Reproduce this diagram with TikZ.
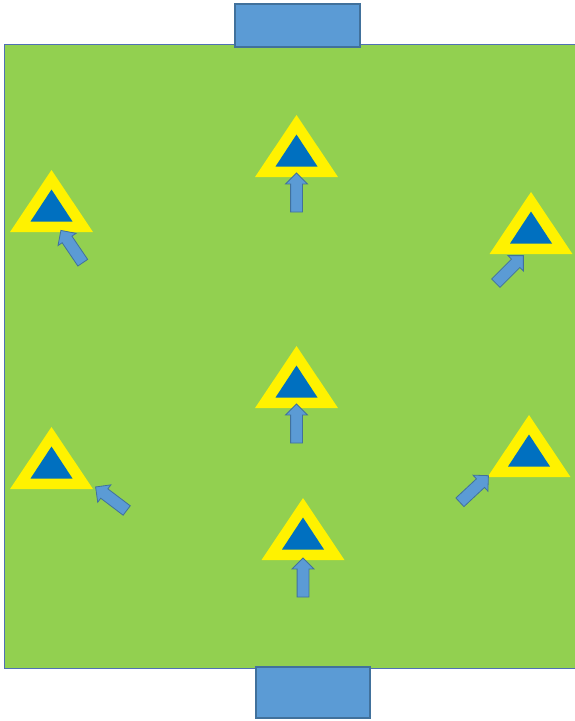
\documentclass[tikz,border=0pt]{standalone}
\usetikzlibrary{shapes.arrows,calc}
\definecolor{pitch}{RGB}{146,208,80}
\definecolor{pitchline}{RGB}{80,112,180}
\definecolor{goalblue}{RGB}{91,155,213}
\definecolor{goaledge}{RGB}{65,113,156}
\definecolor{coneblue}{RGB}{0,112,192}
\tikzset{
  drill/.style={x=1pt,y=-1pt},
  goalbox/.style={fill=goalblue,draw=goaledge,line width=1.2pt},
  fatarrow/.style={single arrow,fill=goalblue,draw=goaledge,line width=0.8pt,
    minimum height=39pt,inner sep=5.5pt,single arrow head extend=5pt,
    single arrow tip angle=90,midway,sloped,allow upside down}
}

\begin{document}
\begin{tikzpicture}[drill]
    \useasboundingbox (0,0) rectangle (574,721);
    % pitch
    \draw[pitchline,fill=pitch,line width=1pt] (4.5,44.5) rectangle (590,668);
    % goals
    \node[goalbox,minimum width=125pt,minimum height=43pt,inner sep=0pt] (goaltop) at (297.5,25.5) {};
    \node[goalbox,minimum width=114pt,minimum height=51pt,inner sep=0pt] (goalbot) at (313,692.5) {};
    % cones
    \foreach \i/\cx/\ay in {1/296.5/115,2/51.5/170,3/531/192,4/296.5/346,5/51.5/427,6/529/415,7/303/498} {
      \coordinate (cone\i) at (\cx,\ay);
      \fill[yellow] (cone\i) -- ++(41.5,62) -- ++(-83,0) -- cycle;
      \fill[coneblue] ($(cone\i)+(0,19.5)$) -- ++(21,32) -- ++(-42,0) -- cycle;
    }
    % runs towards the cones
    \foreach \i/\tx/\ty/\hx/\hy in {1/296.5/215/296.5/176,2/85/266/62/232,3/493/286/522/257,
        4/296.5/446/296.5/407,5/130/513/97/488,6/457/505/487/477,7/303/600/303/561} {
      \coordinate (tail\i) at (\tx,\ty);
      \coordinate (tip\i) at (\hx,\hy);
      \path (tail\i) -- (tip\i) node[fatarrow] (run\i) {};
    }
\end{tikzpicture}
\end{document}
